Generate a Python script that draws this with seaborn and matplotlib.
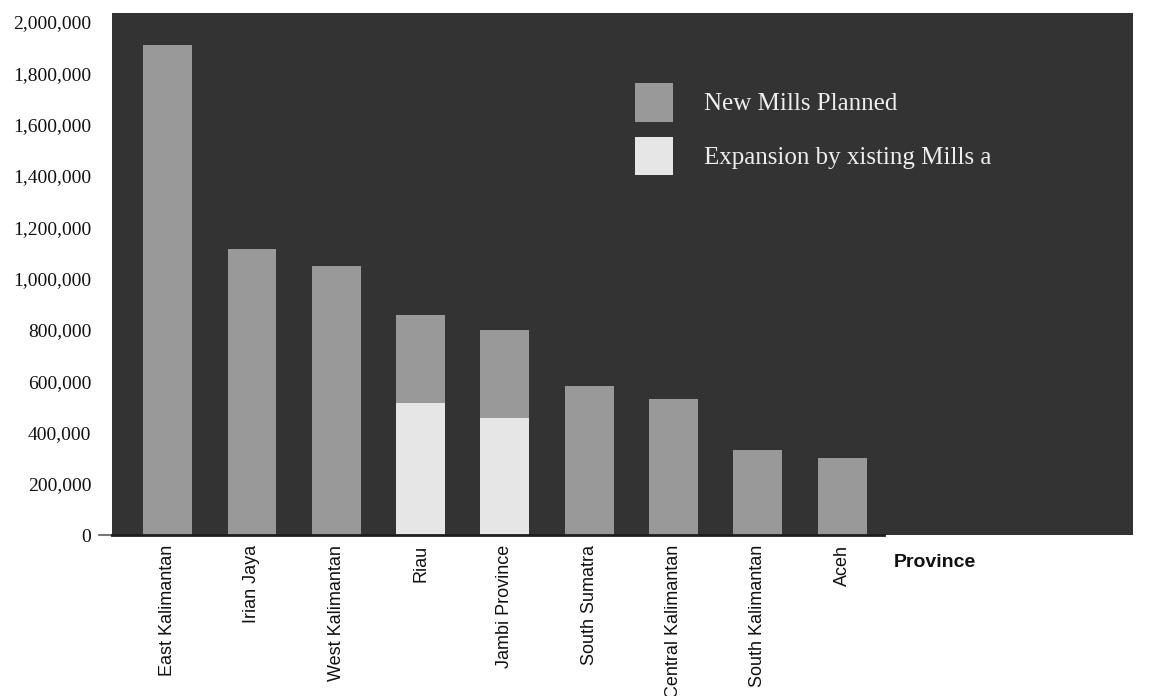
import matplotlib
matplotlib.use("Agg")
from matplotlib import pyplot as plt
from matplotlib.patches import Patch
from matplotlib.ticker import FuncFormatter
import pandas as pd
import seaborn as sns

provinces = ["East Kalimantan", "Irian Jaya", "West Kalimantan", "Riau",
             "Jambi Province", "South Sumatra", "Central Kalimantan",
             "South Kalimantan", "Aceh"]
new_mills = [1910000, 1115000, 1050000, 343000, 345000, 580000, 530000, 332000, 300000]
expansion = [0, 0, 0, 515000, 455000, 0, 0, 0, 0]
y_ticks = [0, 200000, 400000, 600000, 800000, 1000000, 1200000, 1400000,
           1600000, 1800000, 2000000]

df = pd.DataFrame({"province": provinces, "new": new_mills, "expansion": expansion})
df["total"] = df["new"] + df["expansion"]

sns.set_style("white")
plt.rcParams["font.family"] = ["Liberation Serif", "DejaVu Serif"]

fig = plt.figure(figsize=(11.51, 6.96), dpi=100)
ax = fig.add_axes([0.0973, 0.2313, 0.8871, 0.75])
ax.set_facecolor("#333333")

# stacked: total in grey, expansion part drawn over it in light grey
sns.barplot(data=df, x="province", y="total", color="#999999", width=0.58,
            saturation=1, linewidth=0, edgecolor="none", ax=ax)
sns.barplot(data=df, x="province", y="expansion", color="#e6e6e6", width=0.58,
            saturation=1, linewidth=0, edgecolor="none", ax=ax)

ax.set_xlim(-0.66, 11.45)
ax.set_ylim(0, 2035000)
ax.set_yticks(y_ticks)
ax.yaxis.set_major_formatter(FuncFormatter(lambda v, p: f"{v:,.0f}"))
ax.tick_params(axis="y", length=0, pad=15, labelsize=14, labelcolor="#111111")
ax.tick_params(axis="x", length=0, pad=7)
for lab in ax.get_xticklabels():
    lab.set_rotation(90)
    lab.set_family(["Liberation Sans", "DejaVu Sans"])
    lab.set_fontsize(13)
    lab.set_color("#111111")

for s in ["top", "right", "left"]:
    ax.spines[s].set_visible(False)
ax.spines["bottom"].set_color("#1e1e1e")
ax.spines["bottom"].set_linewidth(2)
ax.spines["bottom"].set_bounds(-0.66, 8.5)
ax.axhline(0, xmin=-0.013, xmax=0, color="#777777", lw=1.5, clip_on=False)

ax.set_ylabel("")
ax.set_xlabel("Province",
              family=["Liberation Sans Narrow", "DejaVu Sans Condensed", "Liberation Sans"],
              fontweight="bold", fontsize=14, color="#111111")
ax.xaxis.set_label_coords(0.806, -0.036)

handles = [Patch(facecolor="#999999", label="New Mills Planned"),
           Patch(facecolor="#e6e6e6", label="Expansion by xisting Mills a")]
leg = ax.legend(handles=handles, loc="upper left", bbox_to_anchor=(0.512, 0.866),
                frameon=False, fontsize=18, handlelength=1.52, handleheight=2.0,
                handletextpad=1.24, labelspacing=0.6, borderpad=0, borderaxespad=0)
for t in leg.get_texts():
    t.set_color("#eeeeee")
for h in leg.legend_handles:
    h.set_edgecolor("none")

fig.savefig("out.png", dpi=100, facecolor="white")
